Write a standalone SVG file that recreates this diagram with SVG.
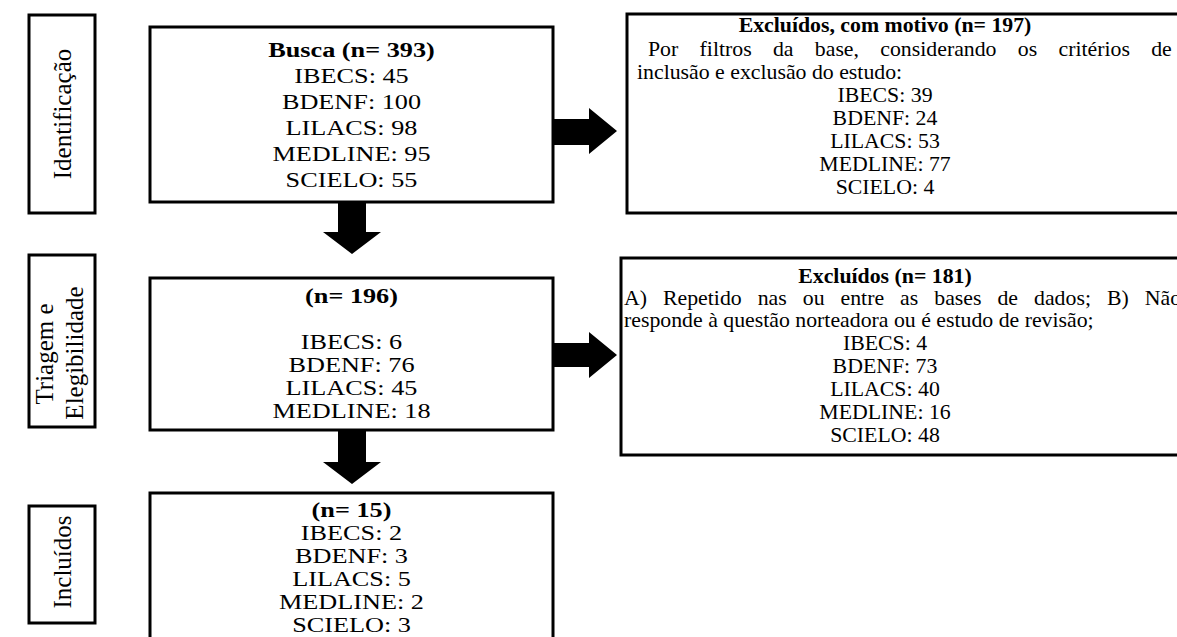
<svg xmlns="http://www.w3.org/2000/svg" width="1177" height="637" viewBox="0 0 1177 637">
<style>
.box{fill:#fff;stroke:#000;stroke-width:3}
.t{font-family:'Liberation Serif','DejaVu Serif',serif;fill:#000}
.lt{font-size:20.5px;text-anchor:middle}
.rt{font-size:21.8px}
.c{text-anchor:middle}
.b{font-weight:bold}
.lab{font-size:25px;text-anchor:middle}
.arr{fill:#000}
</style>
<rect width="1177" height="637" fill="#fff"/>

<g id="stage-identificacao">
<rect class="box" x="29" y="15" width="66" height="198"/>
<text class="t lab" font-family="Liberation Serif, serif" transform="translate(71,114) rotate(-90)">Identificação</text>
</g>
<g id="stage-triagem">
<rect class="box" x="29" y="255" width="66" height="172"/>
<text class="t lab" font-family="Liberation Serif, serif" transform="translate(53,354) rotate(-90)">Triagem e</text>
<text class="t lab" font-family="Liberation Serif, serif" transform="translate(83,353) rotate(-90)">Elegibilidade</text>
</g>
<g id="stage-incluidos">
<rect class="box" x="29" y="506" width="66" height="117"/>
<text class="t lab" font-family="Liberation Serif, serif" transform="translate(71,562) rotate(-90)">Incluídos</text>
</g>

<g id="busca" font-family="Liberation Serif, serif">
<rect class="box" x="150" y="27" width="403" height="175"/>
<g transform="translate(351.5,0) scale(1.28,1)">
<text class="t lt b" x="0" y="57">Busca (n= 393)</text>
<text class="t lt" x="0" y="83">IBECS: 45</text>
<text class="t lt" x="0" y="109">BDENF: 100</text>
<text class="t lt" x="0" y="135">LILACS: 98</text>
<text class="t lt" x="0" y="161">MEDLINE: 95</text>
<text class="t lt" x="0" y="187">SCIELO: 55</text>
</g>
</g>

<g id="triagem" font-family="Liberation Serif, serif">
<rect class="box" x="150" y="278" width="403" height="152"/>
<g transform="translate(351.5,0) scale(1.28,1)">
<text class="t lt b" x="0" y="303">(n= 196)</text>
<text class="t lt" x="0" y="349">IBECS: 6</text>
<text class="t lt" x="0" y="372">BDENF: 76</text>
<text class="t lt" x="0" y="395">LILACS: 45</text>
<text class="t lt" x="0" y="418">MEDLINE: 18</text>
</g>
</g>

<g id="incluidos" font-family="Liberation Serif, serif">
<rect class="box" x="150" y="493" width="403" height="160"/>
<g transform="translate(351.5,0) scale(1.28,1)">
<text class="t lt b" x="0" y="517">(n= 15)</text>
<text class="t lt" x="0" y="540">IBECS: 2</text>
<text class="t lt" x="0" y="563">BDENF: 3</text>
<text class="t lt" x="0" y="586">LILACS: 5</text>
<text class="t lt" x="0" y="609">MEDLINE: 2</text>
<text class="t lt" x="0" y="632">SCIELO: 3</text>
</g>
</g>

<g id="excluidos-1" font-family="Liberation Serif, serif">
<rect class="box" x="627" y="14" width="600" height="199"/>
<text class="t rt c b" x="885" y="32">Excluídos, com motivo (n= 197)</text>
<text class="t rt" x="648" y="56" word-spacing="15.85">Por filtros da base, considerando os critérios de</text>
<text class="t rt" x="637" y="79">inclusão e exclusão do estudo:</text>
<text class="t rt c" x="885" y="102">IBECS: 39</text>
<text class="t rt c" x="885" y="125">BDENF: 24</text>
<text class="t rt c" x="885" y="148">LILACS: 53</text>
<text class="t rt c" x="885" y="171">MEDLINE: 77</text>
<text class="t rt c" x="885" y="194">SCIELO: 4</text>
</g>

<g id="excluidos-2" font-family="Liberation Serif, serif">
<rect class="box" x="621" y="258" width="600" height="197"/>
<text class="t rt c b" x="885" y="283">Excluídos (n= 181)</text>
<text class="t rt" x="624" y="305" word-spacing="10.55">A) Repetido nas ou entre as bases de dados; B) Não</text>
<text class="t rt" x="624" y="327">responde à questão norteadora ou é estudo de revisão;</text>
<text class="t rt c" x="885" y="350">IBECS: 4</text>
<text class="t rt c" x="885" y="373">BDENF: 73</text>
<text class="t rt c" x="885" y="396">LILACS: 40</text>
<text class="t rt c" x="885" y="419">MEDLINE: 16</text>
<text class="t rt c" x="885" y="442">SCIELO: 48</text>
</g>

<g id="connectors">
<polygon class="arr" points="338,203 366,203 366,232 381,232 352,254 323,232 338,232"/>
<polygon class="arr" points="338,431 366,431 366,462 381,462 352,484 323,462 338,462"/>
<polygon class="arr" points="553,119 589,119 589,108 617,131 589,154 589,145 553,145"/>
<polygon class="arr" points="553,343 589,343 589,332 617,355 589,378 589,367 553,367"/>
</g>
</svg>
